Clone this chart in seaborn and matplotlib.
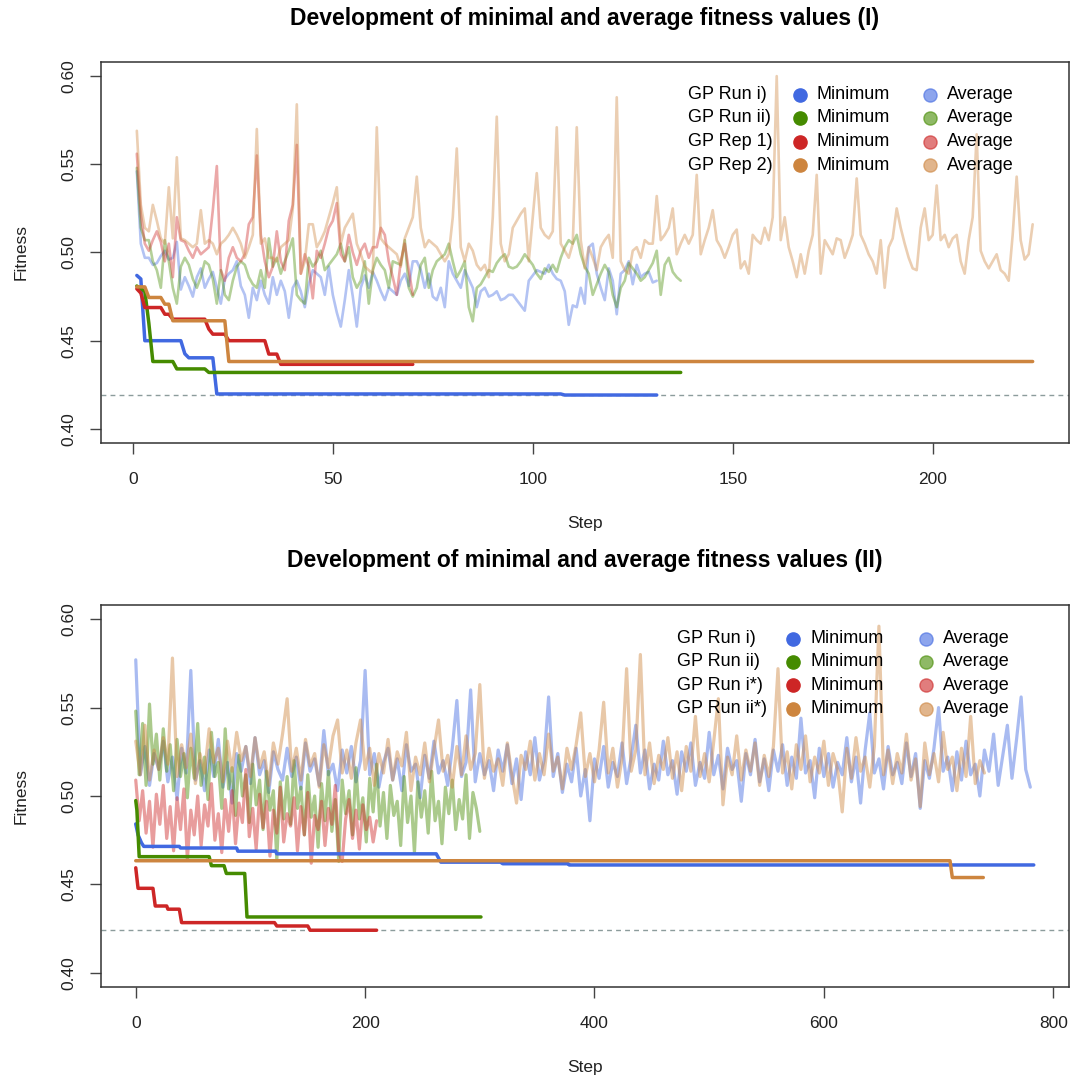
import matplotlib
matplotlib.use("Agg")
import matplotlib.pyplot as plt
import seaborn as sns
from matplotlib.lines import Line2D

# ------------------------------------------------------------------ data
# Panel I : average fitness per step
avg_I_run_i = [0.546, 0.505, 0.497, 0.497, 0.493, 0.494, 0.498, 0.501, 0.496, 0.497,
               0.506, 0.479, 0.486, 0.481, 0.475, 0.486, 0.491, 0.480, 0.485, 0.489,
               0.480, 0.471, 0.485, 0.488, 0.490, 0.495, 0.481, 0.476, 0.463, 0.480,
               0.473, 0.484, 0.476, 0.471, 0.486, 0.476, 0.484, 0.478, 0.463, 0.480,
               0.484, 0.478, 0.469, 0.482, 0.490, 0.488, 0.486, 0.476, 0.492, 0.476,
               0.466, 0.458, 0.473, 0.490, 0.475, 0.458, 0.480, 0.487, 0.480, 0.489,
               0.484, 0.478, 0.473, 0.480, 0.478, 0.476, 0.484, 0.488, 0.481, 0.495,
               0.495, 0.490, 0.480, 0.488, 0.475, 0.473, 0.480, 0.469, 0.495, 0.488,
               0.484, 0.480, 0.490, 0.485, 0.480, 0.469, 0.478, 0.480, 0.475, 0.476,
               0.478, 0.473, 0.474, 0.476, 0.476, 0.473, 0.470, 0.467, 0.484, 0.487,
               0.490, 0.489, 0.488, 0.493, 0.488, 0.485, 0.484, 0.478, 0.459, 0.470,
               0.469, 0.480, 0.471, 0.503, 0.505, 0.488, 0.480, 0.473, 0.491, 0.484,
               0.465, 0.488, 0.490, 0.495, 0.482, 0.493, 0.486, 0.488, 0.489, 0.483,
               0.484]
avg_I_run_ii = [0.548, 0.514, 0.507, 0.507, 0.495, 0.490, 0.480, 0.507, 0.495, 0.480,
                0.471, 0.492, 0.497, 0.493, 0.485, 0.480, 0.486, 0.495, 0.493, 0.485,
                0.471, 0.490, 0.476, 0.473, 0.484, 0.492, 0.495, 0.493, 0.486, 0.482,
                0.480, 0.490, 0.480, 0.508, 0.492, 0.497, 0.488, 0.495, 0.501, 0.508,
                0.476, 0.473, 0.471, 0.497, 0.492, 0.495, 0.501, 0.490, 0.493, 0.496,
                0.499, 0.505, 0.495, 0.503, 0.486, 0.480, 0.484, 0.495, 0.471, 0.490,
                0.497, 0.493, 0.490, 0.480, 0.495, 0.494, 0.493, 0.507, 0.480, 0.475,
                0.480, 0.493, 0.497, 0.480, 0.490, 0.495, 0.497, 0.499, 0.505, 0.495,
                0.486, 0.490, 0.495, 0.469, 0.461, 0.480, 0.482, 0.486, 0.490, 0.489,
                0.494, 0.497, 0.499, 0.492, 0.491, 0.492, 0.495, 0.499, 0.496, 0.493,
                0.488, 0.485, 0.491, 0.489, 0.493, 0.489, 0.497, 0.503, 0.507, 0.505,
                0.510, 0.499, 0.492, 0.488, 0.476, 0.482, 0.488, 0.493, 0.489, 0.476,
                0.469, 0.480, 0.484, 0.494, 0.491, 0.488, 0.484, 0.486, 0.490, 0.494,
                0.501, 0.476, 0.493, 0.497, 0.489, 0.486, 0.484]
avg_I_rep_1 = [0.556, 0.522, 0.505, 0.501, 0.507, 0.512, 0.506, 0.495, 0.505, 0.486,
               0.520, 0.507, 0.506, 0.501, 0.497, 0.503, 0.499, 0.501, 0.503, 0.524,
               0.549, 0.490, 0.484, 0.497, 0.503, 0.497, 0.495, 0.499, 0.516, 0.520,
               0.555, 0.510, 0.495, 0.486, 0.492, 0.512, 0.495, 0.490, 0.518, 0.527,
               0.561, 0.488, 0.499, 0.492, 0.474, 0.501, 0.497, 0.505, 0.514, 0.518,
               0.528, 0.499, 0.495, 0.510, 0.500, 0.493, 0.501, 0.505, 0.497, 0.503,
               0.503, 0.514, 0.510, 0.495, 0.486, 0.476, 0.495, 0.505, 0.490, 0.476]
avg_I_rep_2 = [0.569, 0.527, 0.514, 0.512, 0.527, 0.518, 0.508, 0.505, 0.537, 0.508,
               0.554, 0.508, 0.507, 0.505, 0.503, 0.505, 0.524, 0.505, 0.507, 0.505,
               0.499, 0.505, 0.507, 0.510, 0.514, 0.510, 0.505, 0.497, 0.503, 0.510,
               0.570, 0.505, 0.508, 0.497, 0.497, 0.495, 0.503, 0.505, 0.507, 0.525,
               0.584, 0.488, 0.495, 0.516, 0.516, 0.503, 0.507, 0.512, 0.520, 0.528,
               0.537, 0.505, 0.514, 0.518, 0.522, 0.505, 0.499, 0.492, 0.490, 0.488,
               0.571, 0.508, 0.505, 0.503, 0.501, 0.499, 0.492, 0.508, 0.514, 0.520,
               0.543, 0.514, 0.503, 0.507, 0.505, 0.503, 0.499, 0.495, 0.499, 0.520,
               0.559, 0.503, 0.495, 0.505, 0.501, 0.493, 0.490, 0.493, 0.486, 0.520,
               0.577, 0.505, 0.495, 0.499, 0.514, 0.518, 0.522, 0.525, 0.495, 0.520,
               0.545, 0.514, 0.510, 0.508, 0.512, 0.571, 0.505, 0.501, 0.497, 0.505,
               0.571, 0.507, 0.491, 0.503, 0.497, 0.490, 0.503, 0.507, 0.510, 0.497,
               0.588, 0.495, 0.490, 0.488, 0.501, 0.503, 0.497, 0.507, 0.505, 0.505,
               0.532, 0.507, 0.510, 0.514, 0.525, 0.499, 0.505, 0.510, 0.505, 0.510,
               0.544, 0.499, 0.507, 0.514, 0.524, 0.507, 0.503, 0.497, 0.503, 0.510,
               0.513, 0.491, 0.495, 0.488, 0.510, 0.507, 0.505, 0.514, 0.507, 0.520,
               0.600, 0.507, 0.520, 0.503, 0.495, 0.486, 0.499, 0.488, 0.501, 0.510,
               0.544, 0.488, 0.507, 0.503, 0.499, 0.508, 0.507, 0.497, 0.503, 0.510,
               0.542, 0.510, 0.505, 0.499, 0.495, 0.488, 0.507, 0.480, 0.503, 0.508,
               0.525, 0.514, 0.505, 0.497, 0.491, 0.490, 0.514, 0.525, 0.507, 0.510,
               0.538, 0.507, 0.510, 0.503, 0.508, 0.510, 0.495, 0.488, 0.507, 0.520,
               0.567, 0.501, 0.495, 0.491, 0.495, 0.499, 0.490, 0.488, 0.484, 0.510,
               0.543, 0.507, 0.496, 0.499, 0.516]
steps_I_run_i = list(range(1, len(avg_I_run_i) + 1))
steps_I_run_ii = list(range(1, len(avg_I_run_ii) + 1))
steps_I_rep_1 = list(range(1, len(avg_I_rep_1) + 1))
steps_I_rep_2 = list(range(1, len(avg_I_rep_2) + 1))

# Panel I : minimum fitness (step, value) at the change points
min_I_run_i_steps = [1, 2, 3, 12, 13, 14, 20, 21, 107, 108, 131]
min_I_run_i = [0.487, 0.485, 0.450, 0.450, 0.4426, 0.4403, 0.4403, 0.4198, 0.4198, 0.4192, 0.4192]
min_I_run_ii_steps = [1, 3, 4, 5, 10, 11, 18, 19, 137]
min_I_run_ii = [0.481, 0.478, 0.460, 0.4382, 0.4382, 0.434, 0.434, 0.432, 0.432]
min_I_rep_1_steps = [1, 2, 3, 7, 8, 9, 10, 18, 19, 20, 23, 24, 33, 34, 36, 37, 70]
min_I_rep_1 = [0.4794, 0.477, 0.4688, 0.4688, 0.465, 0.465, 0.4622, 0.4622, 0.4566, 0.4537,
               0.4537, 0.450, 0.450, 0.4424, 0.4424, 0.4366, 0.4366]
min_I_rep_2_steps = [1, 3, 4, 7, 8, 9, 10, 23, 24, 225]
min_I_rep_2 = [0.4805, 0.4805, 0.4745, 0.4745, 0.4707, 0.4707, 0.4613, 0.4613, 0.4382, 0.4382]
ref_I = 0.4192

# Panel II : average fitness (sampled steps)
avg_II_run_i = [0.577, 0.512, 0.528, 0.506, 0.524, 0.515, 0.531, 0.508, 0.522, 0.498,
                0.527, 0.513, 0.571, 0.509, 0.520, 0.503, 0.526, 0.511, 0.532, 0.505,
                0.519, 0.496, 0.524, 0.514, 0.528, 0.507, 0.533, 0.512, 0.520, 0.502,
                0.525, 0.515, 0.509, 0.527, 0.511, 0.522, 0.504, 0.530, 0.514, 0.521,
                0.506, 0.537, 0.512, 0.518, 0.503, 0.526, 0.513, 0.528, 0.508, 0.520,
                0.571, 0.512, 0.524, 0.505, 0.519, 0.527, 0.509, 0.521, 0.503, 0.529,
                0.514, 0.518, 0.499, 0.523, 0.510, 0.531, 0.513, 0.520, 0.506, 0.527,
                0.554, 0.511, 0.519, 0.560, 0.508, 0.524, 0.512, 0.520, 0.503, 0.526,
                0.514, 0.529, 0.507, 0.521, 0.498, 0.525, 0.512, 0.533, 0.509, 0.520,
                0.556, 0.511, 0.524, 0.502, 0.518, 0.508, 0.527, 0.500, 0.515, 0.486,
                0.521, 0.510, 0.528, 0.505, 0.519, 0.511, 0.530, 0.507, 0.522, 0.540,
                0.513, 0.526, 0.504, 0.518, 0.509, 0.531, 0.512, 0.520, 0.501, 0.525,
                0.514, 0.530, 0.506, 0.519, 0.510, 0.536, 0.512, 0.523, 0.504, 0.527,
                0.515, 0.520, 0.497, 0.524, 0.512, 0.532, 0.508, 0.521, 0.503, 0.526,
                0.514, 0.529, 0.506, 0.522, 0.510, 0.544, 0.513, 0.520, 0.499, 0.527,
                0.511, 0.524, 0.505, 0.519, 0.512, 0.533, 0.508, 0.522, 0.496, 0.526,
                0.547, 0.513, 0.521, 0.504, 0.528, 0.512, 0.519, 0.507, 0.530, 0.511,
                0.524, 0.493, 0.520, 0.510, 0.527, 0.550, 0.514, 0.522, 0.503, 0.525,
                0.509, 0.531, 0.512, 0.518, 0.500, 0.526, 0.514, 0.535, 0.506, 0.523,
                0.540, 0.510, 0.532, 0.556, 0.515, 0.505]
avg_II_run_ii = [0.548, 0.512, 0.541, 0.506, 0.552, 0.518, 0.535, 0.509, 0.538, 0.514,
                 0.529, 0.503, 0.532, 0.511, 0.524, 0.499, 0.527, 0.510, 0.541, 0.506,
                 0.522, 0.498, 0.536, 0.511, 0.519, 0.493, 0.538, 0.504, 0.516, 0.489,
                 0.523, 0.500, 0.512, 0.485, 0.518, 0.495, 0.509, 0.481, 0.514, 0.492,
                 0.503, 0.464, 0.508, 0.487, 0.511, 0.484, 0.520, 0.493, 0.505, 0.478,
                 0.512, 0.488, 0.500, 0.471, 0.507, 0.486, 0.514, 0.480, 0.498, 0.463,
                 0.509, 0.490, 0.503, 0.478, 0.516, 0.487, 0.499, 0.474, 0.510, 0.491,
                 0.518, 0.483, 0.502, 0.476, 0.506, 0.489, 0.497, 0.472, 0.511, 0.485,
                 0.500, 0.468, 0.508, 0.488, 0.503, 0.479, 0.514, 0.486, 0.497, 0.473,
                 0.505, 0.490, 0.509, 0.481, 0.498, 0.487, 0.512, 0.476, 0.502, 0.493,
                 0.480]
avg_II_run_i_star = [0.509, 0.486, 0.503, 0.479, 0.497, 0.471, 0.501, 0.484, 0.506, 0.476,
                     0.494, 0.469, 0.499, 0.481, 0.504, 0.464, 0.492, 0.478, 0.500, 0.472,
                     0.495, 0.483, 0.507, 0.475, 0.490, 0.468, 0.498, 0.480, 0.503, 0.473,
                     0.496, 0.485, 0.515, 0.477, 0.493, 0.470, 0.501, 0.482, 0.497, 0.466,
                     0.492, 0.479, 0.505, 0.474, 0.490, 0.483, 0.499, 0.469, 0.494, 0.478,
                     0.502, 0.462, 0.489, 0.481, 0.497, 0.472, 0.493, 0.484, 0.506, 0.468,
                     0.463, 0.487, 0.498, 0.476, 0.492, 0.470, 0.495, 0.481, 0.488, 0.474,
                     0.486]
avg_II_run_ii_star = [0.531, 0.512, 0.540, 0.509, 0.526, 0.515, 0.533, 0.518, 0.578, 0.511,
                      0.529, 0.516, 0.535, 0.507, 0.524, 0.513, 0.538, 0.519, 0.527, 0.508,
                      0.531, 0.514, 0.536, 0.520, 0.528, 0.511, 0.533, 0.516, 0.525, 0.506,
                      0.530, 0.518, 0.535, 0.555, 0.514, 0.527, 0.509, 0.532, 0.517, 0.524,
                      0.505, 0.529, 0.516, 0.534, 0.543, 0.513, 0.526, 0.510, 0.530, 0.543,
                      0.515, 0.527, 0.506, 0.524, 0.513, 0.532, 0.509, 0.525, 0.517, 0.536,
                      0.503, 0.522, 0.512, 0.530, 0.508, 0.526, 0.543, 0.514, 0.523, 0.505,
                      0.528, 0.512, 0.534, 0.515, 0.524, 0.563, 0.510, 0.527, 0.514, 0.521,
                      0.506, 0.530, 0.512, 0.496, 0.523, 0.515, 0.531, 0.509, 0.524, 0.512,
                      0.535, 0.514, 0.522, 0.504, 0.527, 0.515, 0.529, 0.547, 0.511, 0.524,
                      0.508, 0.526, 0.553, 0.513, 0.527, 0.505, 0.521, 0.572, 0.514, 0.526,
                      0.580, 0.512, 0.530, 0.507, 0.523, 0.515, 0.533, 0.510, 0.525, 0.503,
                      0.528, 0.514, 0.545, 0.511, 0.524, 0.508, 0.531, 0.555, 0.495, 0.522,
                      0.512, 0.534, 0.509, 0.526, 0.514, 0.530, 0.506, 0.523, 0.511, 0.528,
                      0.572, 0.513, 0.525, 0.504, 0.529, 0.515, 0.534, 0.508, 0.522, 0.513,
                      0.531, 0.506, 0.524, 0.515, 0.491, 0.527, 0.510, 0.533, 0.514, 0.522,
                      0.505, 0.528, 0.596, 0.512, 0.526, 0.507, 0.524, 0.513, 0.535, 0.509,
                      0.521, 0.494, 0.530, 0.512, 0.524, 0.508, 0.536, 0.515, 0.522, 0.503,
                      0.527, 0.511, 0.545, 0.507, 0.520, 0.513]
steps_II_run_i = list(range(0, 4 * len(avg_II_run_i), 4))
steps_II_run_ii = list(range(0, 3 * len(avg_II_run_ii), 3))
steps_II_run_i_star = list(range(0, 3 * len(avg_II_run_i_star), 3))
steps_II_run_ii_star = list(range(0, 4 * len(avg_II_run_ii_star), 4))

# Panel II : minimum fitness (step, value) at the change points
min_II_run_i_steps = [0, 2, 5, 7, 38, 39, 88, 89, 122, 123, 262, 266, 318, 320, 377, 378, 783]
min_II_run_i = [0.4842, 0.478, 0.4735, 0.4715, 0.4715, 0.4706, 0.4706, 0.4688, 0.4688, 0.4673,
                0.4673, 0.4626, 0.4626, 0.4617, 0.4617, 0.4610, 0.4610]
min_II_run_ii_steps = [0, 1, 3, 64, 66, 77, 79, 95, 97, 301]
min_II_run_ii = [0.4974, 0.492, 0.4657, 0.4657, 0.4606, 0.4606, 0.4562, 0.4562, 0.4316, 0.4316]
min_II_run_i_star_steps = [0, 2, 15, 17, 27, 28, 38, 40, 121, 123, 150, 152, 210]
min_II_run_i_star = [0.4594, 0.4478, 0.4478, 0.4378, 0.4378, 0.4360, 0.4360, 0.4284, 0.4284,
                     0.4265, 0.4265, 0.4241, 0.4241]
min_II_run_ii_star_steps = [0, 710, 712, 739]
min_II_run_ii_star = [0.4634, 0.4634, 0.4539, 0.4539]
ref_II = 0.4240

labels_I = ["GP Run i)", "GP Run ii)", "GP Rep 1)", "GP Rep 2)"]
labels_II = ["GP Run i)", "GP Run ii)", "GP Run i*)", "GP Run ii*)"]
titles = ["Development of minimal and average fitness values (I)",
          "Development of minimal and average fitness values (II)"]
yticks = [0.40, 0.45, 0.50, 0.55, 0.60]
ytick_labels = ["0.40", "0.45", "0.50", "0.55", "0.60"]
xticks_I = [0, 50, 100, 150, 200]
xticks_II = [0, 200, 400, 600, 800]

colors = ["#4169E1", "#458B00", "#CD2626", "#CD853F"]

# ------------------------------------------------------------------ style
sns.set_theme(style="ticks")
plt.rcParams['font.family'] = ['Liberation Sans', 'DejaVu Sans']
INK = "#222222"
FS = 12.5

W, H = 1073, 1084
fig = plt.figure(figsize=(W / 100, H / 100), dpi=100)
fig.patch.set_facecolor("white")


def box(l, t, r, b):
    return [l / W, 1 - b / H, (r - l) / W, (b - t) / H]


ax1 = fig.add_axes(box(101, 62, 1068.5, 443))
ax2 = fig.add_axes(box(101, 605, 1068.5, 987))

MIN_LW = 2.5


def draw_panel(ax, avgs, mins, ref, xlim, xticks, avg_alpha, avg_lw):
    ax.axhline(ref, color="#8C9C9C", lw=1.0, ls=(0, (3.5, 3)), zorder=1)
    for (xs, ys), c in zip(avgs, colors):
        sns.lineplot(x=xs, y=ys, ax=ax, color=c, alpha=avg_alpha, linewidth=avg_lw,
                     estimator=None, sort=False, zorder=2)
    for (xs, ys), c in zip(mins, colors):
        sns.lineplot(x=xs, y=ys, ax=ax, color=c, linewidth=MIN_LW,
                     estimator=None, sort=False, zorder=3)
    ax.set_xlim(*xlim)
    ax.set_ylim(0.392, 0.608)
    ax.set_xticks(xticks)
    ax.set_xticklabels([str(t) for t in xticks])
    ax.set_yticks(yticks)
    ax.set_yticklabels(ytick_labels, rotation=90, va="center")
    ax.tick_params(axis="both", direction="out", length=8, width=1.0,
                   colors="#444444", labelcolor=INK, labelsize=FS)
    ax.tick_params(axis="x", pad=13)
    ax.tick_params(axis="y", pad=9.5)
    for s in ax.spines.values():
        s.set_visible(True)
        s.set_color("#333333")
        s.set_linewidth(1.1)
    ax.set_xlabel("Step", fontsize=FS, color=INK, labelpad=21)
    ax.set_ylabel("Fitness", fontsize=FS, color=INK, labelpad=24)
    ax.set_facecolor("white")
    ax.grid(False)


draw_panel(ax1,
           [(steps_I_run_i, avg_I_run_i), (steps_I_run_ii, avg_I_run_ii),
            (steps_I_rep_1, avg_I_rep_1), (steps_I_rep_2, avg_I_rep_2)],
           [(min_I_run_i_steps, min_I_run_i), (min_I_run_ii_steps, min_I_run_ii),
            (min_I_rep_1_steps, min_I_rep_1), (min_I_rep_2_steps, min_I_rep_2)],
           ref_I, (-7.96, 233.96), xticks_I, 0.40, 1.9)
draw_panel(ax2,
           [(steps_II_run_i, avg_II_run_i), (steps_II_run_ii, avg_II_run_ii),
            (steps_II_run_i_star, avg_II_run_i_star), (steps_II_run_ii_star, avg_II_run_ii_star)],
           [(min_II_run_i_steps, min_II_run_i), (min_II_run_ii_steps, min_II_run_ii),
            (min_II_run_i_star_steps, min_II_run_i_star), (min_II_run_ii_star_steps, min_II_run_ii_star)],
           ref_II, (-30.3, 813.3), xticks_II, 0.45, 2.3)

# titles
fig.text(585 / W, 1 - 18 / H, titles[0], ha="center", va="center",
         fontsize=16.5, fontweight="bold", color="black")
fig.text(585 / W, 1 - 560 / H, titles[1], ha="center", va="center",
         fontsize=16.5, fontweight="bold", color="black")


# legends (text column + two dot columns)
def legend(labels, x_lab, y_rows, x_dot1, x_dot2):
    for lab, y, c in zip(labels, y_rows, colors):
        yf = 1 - y / H
        fig.text(x_lab / W, yf, lab, ha="left", va="center", fontsize=13, color="black")
        fig.add_artist(Line2D([x_dot1 / W], [yf], marker="o", markersize=9.5, color=c,
                              linestyle="none", transform=fig.transFigure))
        fig.text((x_dot1 + 17) / W, yf, "Minimum", ha="left", va="center", fontsize=13, color="black")
        fig.add_artist(Line2D([x_dot2 / W], [yf], marker="o", markersize=9.5, color=c, alpha=0.6,
                              linestyle="none", transform=fig.transFigure))
        fig.text((x_dot2 + 17) / W, yf, "Average", ha="left", va="center", fontsize=13, color="black")


legend(labels_I, 688, [94.5, 118, 141.5, 165], 800, 930)
legend(labels_II, 677, [638.5, 661.5, 685, 708.5], 793, 926)

fig.savefig("out.png", dpi=100, facecolor="white")
